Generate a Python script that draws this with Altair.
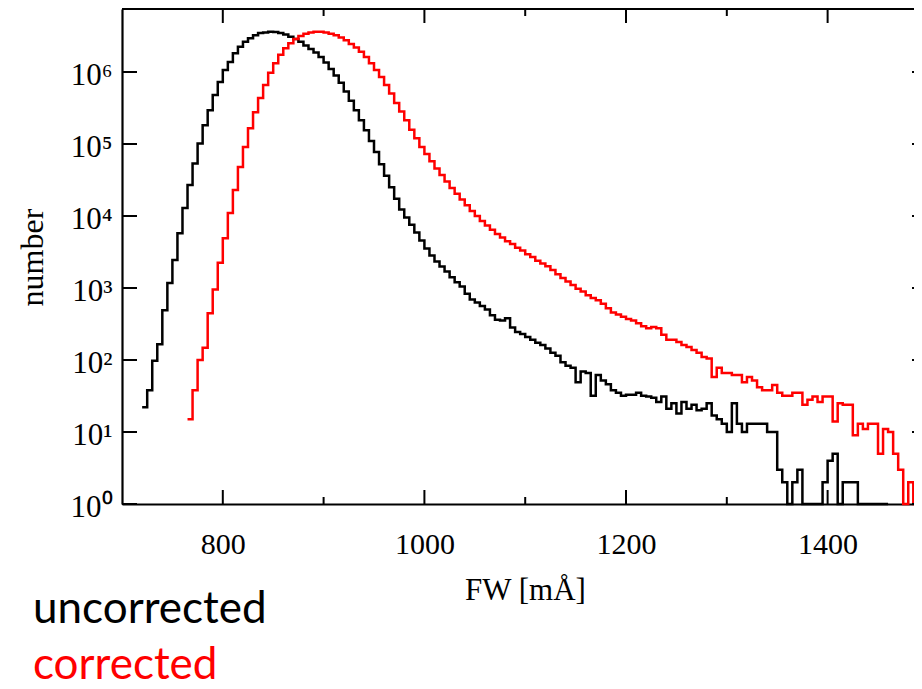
import altair as alt
import pandas as pd

BIN_WIDTH = 5
SERIES = ["uncorrected", "corrected"]
COLORS = ["#000000", "#ff0000"]

UNCORR_START = 720
UNCORR_COUNTS = [
    22, 38, 98, 166, 490, 1175, 2455, 5750, 12900, 26900,
    53700, 102000, 182000, 295000, 479000, 724000, 1070000, 1380000, 1820000, 2240000,
    2630000, 2950000, 3240000, 3470000, 3550000, 3630000, 3590000, 3470000, 3310000, 3090000,
    2880000, 2630000, 2340000, 2090000, 1860000, 1620000, 1350000, 1100000, 891000, 708000,
    537000, 398000, 295000, 214000, 155000, 110000, 77600, 52500, 36300, 25100,
    17400, 12300, 9550, 7590, 5890, 4570, 3550, 2820, 2340, 1995,
    1700, 1410, 1200, 1050, 832, 692, 631, 562, 501, 417,
    363, 355, 380, 282, 245, 229, 209, 191, 174, 162,
    145, 126, 115, 93, 83, 78, 49, 69, 66, 32,
    62, 52, 46, 38, 35, 32, 33, 33, 35, 32,
    31, 30, 26, 31, 21, 25, 18, 26, 21, 24,
    20, 21, 25, 17, 15, 13, 10, 25, 13, 10,
    13, 13, 13, 13, 10, 10, 3, 2, 1, 2,
    3, 1, 1, 1, 1, 2, 4, 5, 1, 2,
    2, 2, 1, 1, 1, 1, 1, 1,
]

CORR_START = 765
CORR_COUNTS = [
    15, 38, 100, 148, 447, 955, 2240, 4900, 11000, 22900,
    47900, 91200, 166000, 275000, 437000, 661000, 977000, 1320000, 1740000, 2140000,
    2510000, 2880000, 3160000, 3390000, 3550000, 3630000, 3630000, 3550000, 3390000, 3240000,
    3020000, 2750000, 2450000, 2190000, 1910000, 1620000, 1320000, 1070000, 851000, 661000,
    501000, 372000, 282000, 214000, 158000, 120000, 91200, 72400, 57500, 45700,
    37200, 30200, 24500, 20400, 17000, 14100, 11700, 10000, 8510, 7410,
    6460, 5620, 5010, 4470, 4070, 3630, 3310, 2950, 2690, 2400,
    2190, 2000, 1780, 1550, 1380, 1230, 1100, 977, 891, 794,
    724, 676, 603, 525, 457, 427, 398, 372, 355, 324,
    295, 275, 288, 275, 224, 191, 191, 178, 162, 151,
    138, 126, 110, 105, 58, 78, 66, 66, 62, 62,
    49, 58, 52, 42, 38, 38, 45, 35, 32, 32,
    35, 35, 24, 28, 31, 26, 31, 31, 14, 25,
    24, 24, 9, 13, 11, 13, 13, 5, 11, 10,
    5, 3, 1, 2, 1, 2,
]

X_MAJOR = [800, 1000, 1200, 1400]
X_MINOR = [900, 1100, 1300]
Y_TICKS = [1, 10, 100, 1000, 10000, 100000, 1000000]

# ---- build tables ----
rows = []
for name, start, counts in [
    (SERIES[0], UNCORR_START, UNCORR_COUNTS),
    (SERIES[1], CORR_START, CORR_COUNTS),
]:
    for i, c in enumerate(counts):
        rows.append({"series": name, "fw": start + i * BIN_WIDTH, "count": c})
    rows.append({"series": name, "fw": start + len(counts) * BIN_WIDTH, "count": counts[-1]})
df = pd.DataFrame(rows)

W, H = 792, 495
SERIF = "Liberation Serif"

xscale = alt.Scale(domain=[700, 1485.7], nice=False, zero=False)
yscale = alt.Scale(type="log", domain=[1, 7.5e6], nice=False)

xaxis = alt.Axis(
    values=X_MAJOR, format="d", tickSize=0, grid=False,
    labelFont=SERIF, labelFontSize=30, labelPadding=25, labelColor="black",
    domainColor="black", domainWidth=2.2,
    title="FW [mÅ]", titleFont=SERIF, titleFontSize=31, titleFontWeight="normal",
    titleColor="black", titleX=403, titleY=86, titleBaseline="middle", titleAlign="center",
)
yaxis = alt.Axis(
    values=Y_TICKS, tickSize=0, grid=False,
    labelExpr="'10' + ['⁰','¹','²','³','⁴','⁵','⁶','⁷'][round(log(datum.value)/LN10)]",
    labelFont=SERIF, labelFontSize=31, labelPadding=10, labelColor="black", labelOffset=3,
    domainColor="black", domainWidth=2.2,
    title="number", titleFont=SERIF, titleFontSize=32, titleFontWeight="normal",
    titleColor="black", titleX=-90, titleY=248, titleAngle=270,
    titleBaseline="middle", titleAlign="center",
)


def xenc(field):
    return alt.X(field, type="quantitative", scale=xscale, axis=xaxis, title="FW [mÅ]")


def yenc(field):
    return alt.Y(field, type="quantitative", scale=yscale, axis=yaxis, title="number")


lines = alt.Chart(df).mark_line(interpolate="step-after", strokeWidth=2.5).encode(
    x=xenc("fw"),
    y=yenc("count"),
    color=alt.Color("series:N", scale=alt.Scale(domain=SERIES, range=COLORS), legend=None),
    detail="series:N",
)

major_df = pd.DataFrame({"fw": X_MAJOR})
minor_df = pd.DataFrame({"fw": X_MINOR})
ytick_df = pd.DataFrame({"count": Y_TICKS})

tick_style = dict(color="black", strokeWidth=2)
bot_major = alt.Chart(major_df).mark_rule(**tick_style).encode(
    x=xenc("fw"), y=alt.value(H), y2=alt.value(H - 14))
top_major = alt.Chart(major_df).mark_rule(**tick_style).encode(
    x=xenc("fw"), y=alt.value(0), y2=alt.value(14))
bot_minor = alt.Chart(minor_df).mark_rule(**tick_style).encode(
    x=xenc("fw"), y=alt.value(H), y2=alt.value(H - 7))
top_minor = alt.Chart(minor_df).mark_rule(**tick_style).encode(
    x=xenc("fw"), y=alt.value(0), y2=alt.value(7))
left_ticks = alt.Chart(ytick_df).mark_rule(**tick_style).encode(
    y=yenc("count"), x=alt.value(0), x2=alt.value(15))
right_ticks = alt.Chart(ytick_df).mark_rule(**tick_style).encode(
    y=yenc("count"), x=alt.value(W - 2), x2=alt.value(W))

top_frame = alt.Chart(alt.Data(values=[{"k": 1}])).mark_rule(color="black", strokeWidth=2.2).encode(
    x=alt.value(0), x2=alt.value(W), y=alt.value(0))

legend_texts = []
for name, col, ypix in [(SERIES[0], COLORS[0], 614), (SERIES[1], COLORS[1], 670)]:
    legend_texts.append(
        alt.Chart(alt.Data(values=[{"label": name}])).mark_text(
            align="left", baseline="alphabetic", font="Lato", fontSize=44, color=col
        ).encode(text="label:N", x=alt.value(-89), y=alt.value(ypix))
    )

chart = alt.layer(
    lines, bot_major, top_major, bot_minor, top_minor, left_ticks, right_ticks, top_frame,
    *legend_texts,
).properties(
    width=W, height=H,
    padding={"left": 114, "top": 1, "right": 0, "bottom": 185},
    autosize=alt.AutoSizeParams(type="none"),
    background="white",
).configure_view(stroke="transparent")

chart.save("out.html", embed_options={"renderer": "svg", "actions": False})
